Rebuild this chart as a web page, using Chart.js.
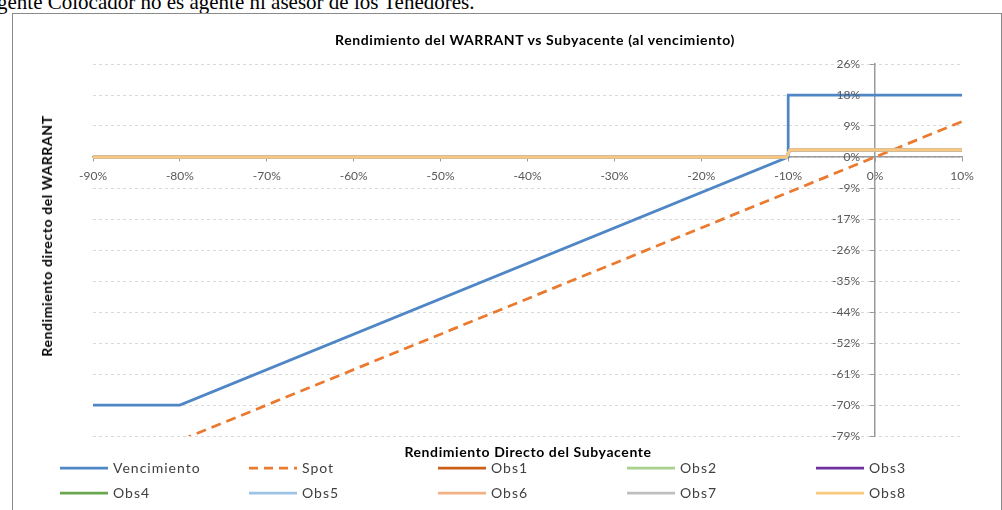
<!DOCTYPE html>
<html>
<head>
<meta charset="utf-8">
<script src="https://cdn.jsdelivr.net/npm/chart.js@4"></script>
<style>
  body { margin: 0; background: #fff; width: 1002px; height: 510px; overflow: hidden; position: relative; }
  .note { position: absolute; left: -3px; top: -8px; font: 21px "Liberation Serif", serif; line-height: 21px; color: #000; white-space: nowrap; }
  .frame { position: absolute; left: 12px; top: 13px; width: 990px; height: 510px; border: 1px solid #8a8a8a; box-sizing: border-box; }
  #wrap { position: absolute; left: 0; top: 0; width: 1002px; height: 510px; }
  .ttl { position: absolute; font: bold 14px Lato, sans-serif; letter-spacing: 0.6px; color: #000; white-space: nowrap; line-height: 16px; }
  .legend { position: absolute; left: 60px; top: 458px; display: grid; grid-template-columns: repeat(5, 189px); row-gap: 6px; }
  .item { display: flex; align-items: center; height: 19px; font: 14px Lato, sans-serif; letter-spacing: 1px; color: #404040; }
  .item canvas { margin-right: 5px; }
</style>
</head>
<body>
<div class="note">gente Colocador no es agente ni asesor de los Tenedores.</div>
<div class="frame"></div>
<div id="wrap"><canvas id="warrantChart"></canvas></div>
<div class="ttl" id="chartTitle" style="left:535px; top:32px; transform: translateX(-50%);"></div>
<div class="ttl" style="left:47px; top:236px; transform: translate(-50%, -50%) rotate(-90deg);">Rendimiento directo del WARRANT</div>
<div class="ttl" style="left:528px; top:444px; transform: translateX(-50%);">Rendimiento Directo del Subyacente</div>
<div class="legend" id="legend"></div>
<script>
const chartTitle = "Rendimiento del WARRANT vs Subyacente (al vencimiento)";

const seriesNames = ["Vencimiento", "Spot", "Obs1", "Obs2", "Obs3", "Obs4", "Obs5", "Obs6", "Obs7", "Obs8"];
const seriesColors = ["#4F86C6", "#E97A2F", "#CC5F17", "#A9D18E", "#7030A0", "#6AA84F", "#9DC3E6", "#F4B183", "#BFBFBF", "#F9C77E"];

// rendimiento del subyacente (%) / rendimiento del warrant (%)
const vencimientoX = [-90, -80, -10, -10, 10];
const vencimientoY = [-70, -70, 0, 17.5, 17.5];
const spotX = [-90, 10];
const spotY = [-90, 10];
const obsX = [-90, -10.2, -9.8, 10];
const obsY = [0, 0, 2, 2];

const xTickLabels = ["-90%", "-80%", "-70%", "-60%", "-50%", "-40%", "-30%", "-20%", "-10%", "0%", "10%"];
const yTickLabels = ["-79%", "-70%", "-61%", "-52%", "-44%", "-35%", "-26%", "-17%", "-9%", "0%", "9%", "18%", "26%"];

document.getElementById("chartTitle").textContent = chartTitle;

const toPoints = (xs, ys) => xs.map((x, i) => ({ x: x, y: ys[i] }));

const datasets = seriesNames.map((name, i) => {
    let pts;
    if (i === 0) pts = toPoints(vencimientoX, vencimientoY);
    else if (i === 1) pts = toPoints(spotX, spotY);
    else pts = toPoints(obsX, obsY);
    return {
        label: name,
        data: pts,
        borderColor: seriesColors[i],
        backgroundColor: seriesColors[i],
        borderWidth: 2.75,
        borderDash: i === 1 ? [10, 6] : [],
        pointRadius: 0,
        tension: 0,
        order: 10 - i,
    };
});

// y labels sit left of the y axis, which crosses at x = 0
const yLabelsPlugin = {
    id: "yLabels",
    afterDraw(chart) {
        const { ctx, scales } = chart;
        const x0 = scales.x.getPixelForValue(0) - 15;
        ctx.save();
        ctx.font = "12px Lato";
        ctx.fillStyle = "#595959";
        ctx.textAlign = "right";
        ctx.textBaseline = "middle";
        scales.y.ticks.forEach((t, i) => {
            ctx.fillText(yTickLabels[i], x0, scales.y.getPixelForValue(t.value));
        });
        ctx.restore();
    },
};

new Chart(document.getElementById("warrantChart"), {
    type: "line",
    data: { datasets: datasets },
    options: {
        responsive: true,
        maintainAspectRatio: false,
        animation: false,
        layout: { padding: { left: 93, right: 40, top: 64, bottom: 74 } },
        scales: {
            x: {
                type: "linear",
                min: -90,
                max: 10,
                position: { y: 0 },
                ticks: {
                    stepSize: 10,
                    color: "#595959",
                    font: { family: "Lato", size: 12 },
                    padding: 8,
                    callback: (v, i) => xTickLabels[i],
                },
                grid: { drawOnChartArea: false, drawTicks: true, tickLength: 4, tickColor: "#9a9a9a" },
                border: { color: "#9a9a9a", width: 1.5 },
            },
            y: {
                type: "linear",
                min: -78.75,
                max: 26.25,
                position: { x: 0 },
                ticks: { stepSize: 8.75, display: false },
                grid: { color: "#d9d9d9", tickLength: 4, tickColor: "#9a9a9a" },
                border: { color: "#9a9a9a", width: 1.5, dash: [3, 3] },
            },
        },
        plugins: {
            legend: { display: false },
            tooltip: { enabled: false },
        },
    },
    plugins: [yLabelsPlugin],
});

// legend
const legend = document.getElementById("legend");
seriesNames.forEach((name, i) => {
    const item = document.createElement("div");
    item.className = "item";
    const c = document.createElement("canvas");
    c.width = 48; c.height = 6;
    const g = c.getContext("2d");
    g.strokeStyle = seriesColors[i];
    g.lineWidth = 2.75;
    if (i === 1) g.setLineDash([9, 6]);
    g.beginPath(); g.moveTo(0, 3); g.lineTo(48, 3); g.stroke();
    item.appendChild(c);
    item.appendChild(document.createTextNode(name));
    legend.appendChild(item);
});
</script>
</body>
</html>
